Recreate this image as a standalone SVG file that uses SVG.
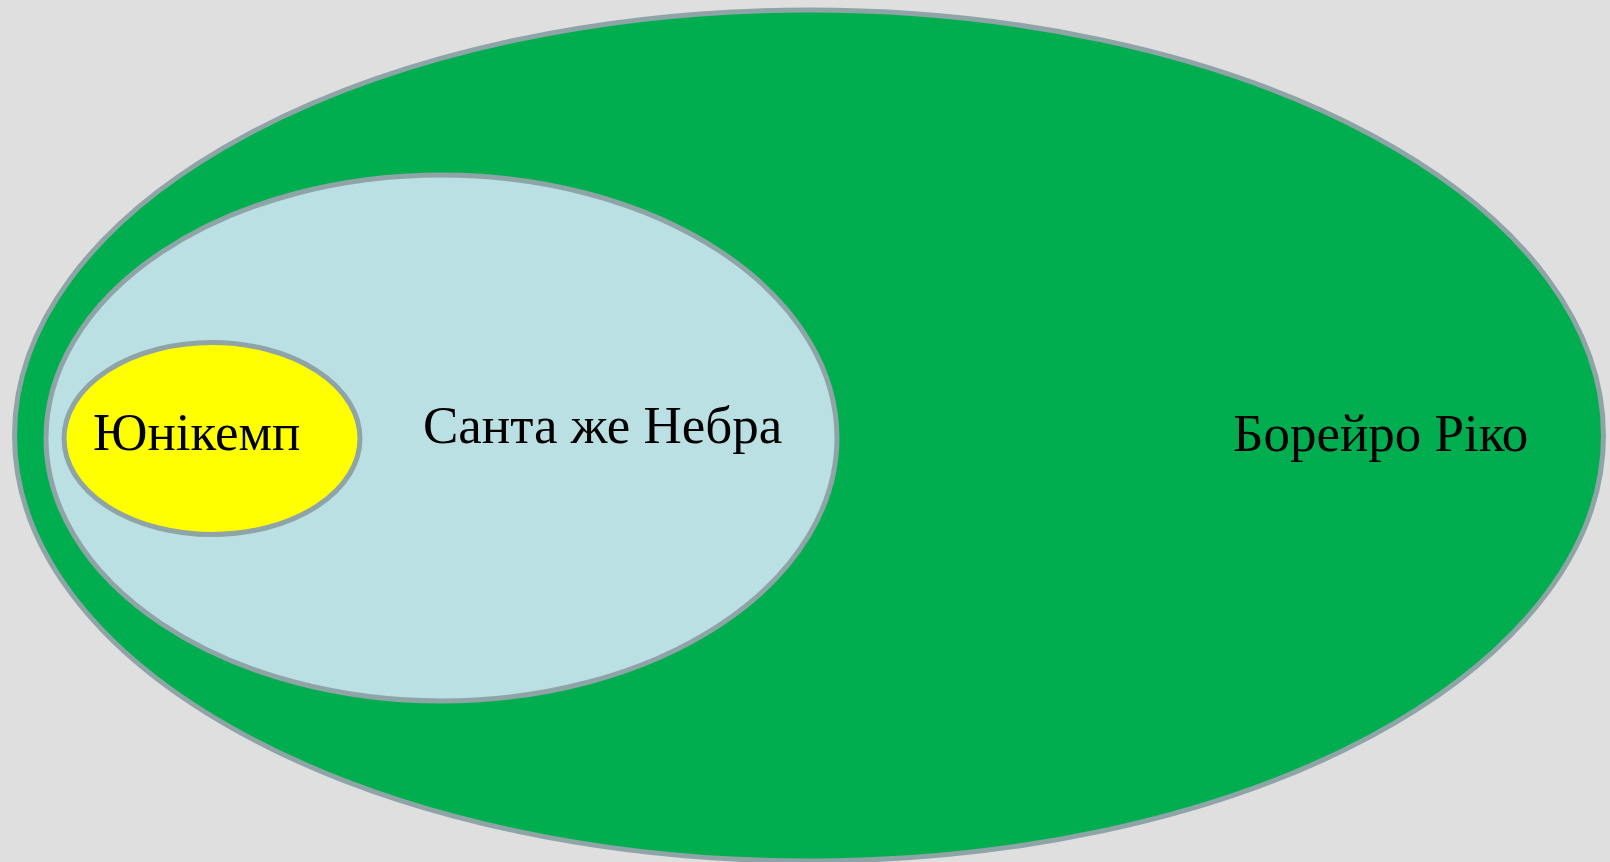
<svg xmlns="http://www.w3.org/2000/svg" width="1610" height="862" viewBox="0 0 1610 862">
<style>
.sh{stroke:#8ea4a6;stroke-width:5}
.t{font-family:"Liberation Serif","Times New Roman",serif;font-size:53px;fill:#000}
</style>
<rect width="1610" height="862" fill="#dfdfdf"/>
<g id="borejro">
<ellipse class="sh" cx="809" cy="435.5" rx="794.5" ry="425.5" fill="#00ae4f"/>
<text class="t" x="1233" y="451">Борейро Ріко</text>
</g>
<g id="santa">
<ellipse class="sh" cx="441.5" cy="438" rx="395.5" ry="263" fill="#bbe0e3"/>
<text class="t" x="423" y="443">Санта же Небра</text>
</g>
<g id="unikemp">
<ellipse class="sh" cx="212" cy="438.5" rx="148" ry="96" fill="#ffff00"/>
<text class="t" x="93" y="450">Юнікемп</text>
</g>
<g id="connectors"/>
</svg>
